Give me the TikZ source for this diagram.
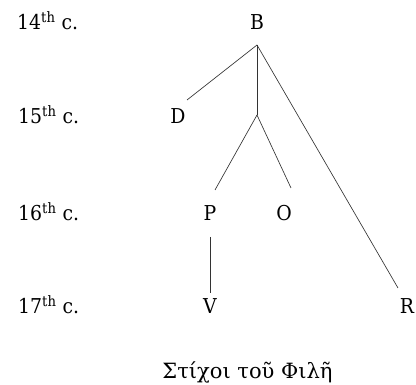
\documentclass[tikz,border=0pt]{standalone}
\usepackage{fontspec}
\setmainfont{DejaVu Serif}
\newfontfamily\labelfont{DejaVu Serif}[FakeStretch=0.92]
\begin{document}
\begin{tikzpicture}[x=1pt,y=-1pt,
  lbl/.style={inner sep=0pt, anchor=base, font=\labelfont\fontsize{20.5}{24}\selectfont},
  period/.style={lbl, anchor=base west},
  captxt/.style={inner sep=0pt, anchor=base, font=\fontsize{21}{25}\selectfont},
  edge/.style={line width=0.65pt, draw=black!80}]
\useasboundingbox (0,0) rectangle (416,385);
% century labels
\node[period] (c14) at (17,30) {14\textsuperscript{th} c.};
\node[period] (c15) at (18,124) {15\textsuperscript{th} c.};
\node[period] (c16) at (18,221) {16\textsuperscript{th} c.};
\node[period] (c17) at (18,314) {17\textsuperscript{th} c.};
% manuscripts
\node[lbl] (B) at (257,30) {B};
\node[lbl] (D) at (178,124) {D};
\node[lbl] (P) at (210,221) {P};
\node[lbl] (O) at (284,221) {O};
\node[lbl] (V) at (210,314) {V};
\node[lbl] (R) at (407,314) {R};
\node[captxt] (cap) at (247.5,379) {Στίχοι τοῦ Φιλῆ};
% junctions and line ends
\coordinate (j1) at (257,45);
\coordinate (j2) at (257,115);
\coordinate (dEnd) at (187,100);
\coordinate (pEnd) at (215,190);
\coordinate (oEnd) at (291,188);
\coordinate (rEnd) at (398,288);
\coordinate (pBot) at (210,237);
\coordinate (vTop) at (210,293);
\draw[edge] (j1) -- (dEnd);
\draw[edge] (j1) -- (j2);
\draw[edge] (j2) -- (pEnd);
\draw[edge] (j2) -- (oEnd);
\draw[edge] (j1) -- (rEnd);
\draw[edge] (pBot) -- (vTop);
\end{tikzpicture}
\end{document}
